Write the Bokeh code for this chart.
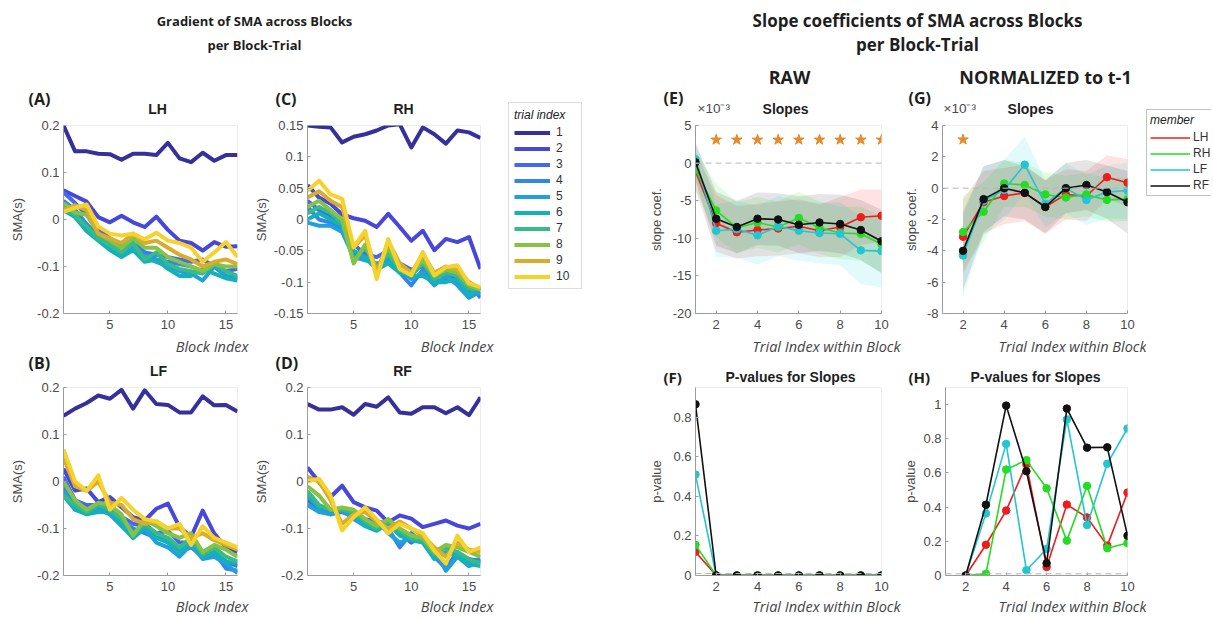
from bokeh.plotting import figure
from bokeh.models import Range1d, Label, Legend, LegendItem, Span, FixedTicker
from bokeh.layouts import column, row
from bokeh.embed import file_html
from bokeh.resources import INLINE

# ---------------- data ----------------
block_index = list(range(1, 17))
trial_names = ["1", "2", "3", "4", "5", "6", "7", "8", "9", "10"]
trial_colors = ["#35309a", "#4747da", "#4468f2", "#3485ea", "#22a0de", "#14b2b6",
                "#38bb88", "#86c244", "#d8ac2c", "#f6d32c"]

sma_LH = [
    [0.200, 0.145, 0.145, 0.140, 0.139, 0.127, 0.140, 0.140, 0.137, 0.163, 0.130, 0.122, 0.142, 0.125, 0.137, 0.137],
    [0.062, 0.050, 0.038, 0.005, -0.006, 0.008, -0.006, -0.016, 0.006, -0.022, -0.045, -0.050, -0.066, -0.048, -0.058, -0.057],
    [0.058, 0.035, 0.010, -0.020, -0.040, -0.055, -0.050, -0.070, -0.075, -0.080, -0.085, -0.090, -0.085, -0.100, -0.110, -0.105],
    [0.040, 0.020, -0.010, -0.035, -0.050, -0.060, -0.055, -0.070, -0.085, -0.090, -0.095, -0.100, -0.110, -0.100, -0.120, -0.125],
    [0.025, 0.010, -0.020, -0.040, -0.060, -0.075, -0.060, -0.080, -0.090, -0.100, -0.110, -0.115, -0.130, -0.100, -0.120, -0.125],
    [0.020, 0.005, -0.025, -0.045, -0.065, -0.080, -0.065, -0.090, -0.085, -0.105, -0.120, -0.120, -0.105, -0.115, -0.125, -0.130],
    [0.030, 0.010, -0.015, -0.040, -0.055, -0.070, -0.050, -0.085, -0.070, -0.095, -0.105, -0.110, -0.115, -0.095, -0.110, -0.120],
    [0.035, 0.015, 0.010, -0.030, -0.045, -0.060, -0.040, -0.060, -0.060, -0.080, -0.090, -0.100, -0.110, -0.095, -0.100, -0.100],
    [0.020, 0.030, 0.020, -0.030, -0.040, -0.050, -0.030, -0.050, -0.045, -0.060, -0.075, -0.085, -0.100, -0.090, -0.085, -0.095],
    [0.016, 0.025, 0.032, -0.015, -0.030, -0.034, -0.030, -0.042, -0.028, -0.045, -0.050, -0.060, -0.090, -0.070, -0.048, -0.080],
]
sma_RH = [
    [0.150, 0.148, 0.147, 0.123, 0.132, 0.136, 0.142, 0.150, 0.152, 0.115, 0.147, 0.136, 0.121, 0.142, 0.139, 0.130],
    [0.055, 0.035, 0.025, 0.008, 0.002, -0.002, -0.012, 0.009, -0.012, -0.034, -0.018, -0.049, -0.031, -0.036, -0.028, -0.079],
    [0.030, 0.015, 0.005, -0.010, -0.040, -0.055, -0.060, -0.050, -0.070, -0.080, -0.075, -0.090, -0.085, -0.095, -0.100, -0.125],
    [0.020, 0.000, -0.005, -0.015, -0.055, -0.060, -0.075, -0.060, -0.085, -0.105, -0.080, -0.100, -0.095, -0.100, -0.115, -0.120],
    [-0.005, -0.010, -0.010, -0.020, -0.060, -0.065, -0.070, -0.065, -0.080, -0.095, -0.085, -0.105, -0.090, -0.105, -0.125, -0.115],
    [0.000, 0.010, 0.000, -0.010, -0.050, -0.060, -0.080, -0.070, -0.085, -0.090, -0.090, -0.100, -0.100, -0.095, -0.120, -0.110],
    [0.010, 0.020, 0.010, -0.005, -0.065, -0.045, -0.075, -0.055, -0.080, -0.090, -0.070, -0.095, -0.085, -0.090, -0.110, -0.110],
    [0.020, 0.030, 0.015, 0.000, -0.070, -0.040, -0.080, -0.045, -0.075, -0.085, -0.065, -0.090, -0.080, -0.085, -0.105, -0.112],
    [0.035, 0.045, 0.030, 0.020, -0.045, -0.025, -0.085, -0.035, -0.070, -0.085, -0.055, -0.085, -0.075, -0.080, -0.100, -0.110],
    [0.046, 0.062, 0.040, 0.033, -0.044, -0.018, -0.095, -0.031, -0.079, -0.089, -0.052, -0.089, -0.076, -0.073, -0.102, -0.108],
]
sma_LF = [
    [0.140, 0.155, 0.167, 0.183, 0.176, 0.195, 0.155, 0.194, 0.165, 0.163, 0.147, 0.147, 0.181, 0.162, 0.163, 0.149],
    [0.027, -0.019, -0.015, -0.044, -0.033, -0.055, -0.076, -0.083, -0.058, -0.047, -0.097, -0.118, -0.062, -0.111, -0.140, -0.150],
    [0.010, -0.040, -0.050, -0.050, -0.060, -0.075, -0.090, -0.095, -0.110, -0.105, -0.130, -0.130, -0.150, -0.155, -0.170, -0.180],
    [-0.010, -0.050, -0.060, -0.055, -0.065, -0.085, -0.100, -0.110, -0.120, -0.120, -0.150, -0.140, -0.160, -0.150, -0.185, -0.190],
    [-0.020, -0.060, -0.065, -0.060, -0.070, -0.095, -0.120, -0.100, -0.130, -0.140, -0.160, -0.135, -0.165, -0.160, -0.175, -0.195],
    [-0.030, -0.060, -0.070, -0.065, -0.065, -0.090, -0.120, -0.095, -0.120, -0.130, -0.150, -0.125, -0.160, -0.150, -0.170, -0.175],
    [-0.030, -0.050, -0.065, -0.050, -0.060, -0.080, -0.110, -0.090, -0.110, -0.120, -0.140, -0.120, -0.155, -0.140, -0.160, -0.170],
    [0.000, -0.040, -0.060, -0.045, -0.050, -0.070, -0.115, -0.080, -0.095, -0.110, -0.120, -0.110, -0.150, -0.135, -0.145, -0.160],
    [0.050, -0.010, -0.020, 0.000, -0.045, -0.050, -0.080, -0.090, -0.085, -0.100, -0.100, -0.120, -0.110, -0.125, -0.135, -0.145],
    [0.068, 0.000, -0.020, 0.013, -0.060, -0.035, -0.060, -0.080, -0.085, -0.100, -0.090, -0.135, -0.095, -0.120, -0.130, -0.140],
]
sma_RF = [
    [0.165, 0.153, 0.153, 0.158, 0.142, 0.165, 0.159, 0.179, 0.147, 0.144, 0.158, 0.158, 0.145, 0.158, 0.141, 0.179],
    [0.030, -0.001, -0.033, -0.009, -0.044, -0.055, -0.062, -0.087, -0.072, -0.079, -0.097, -0.090, -0.083, -0.094, -0.100, -0.090],
    [-0.040, -0.055, -0.065, -0.060, -0.070, -0.080, -0.085, -0.090, -0.110, -0.130, -0.115, -0.150, -0.140, -0.155, -0.165, -0.170],
    [-0.050, -0.060, -0.070, -0.065, -0.075, -0.090, -0.095, -0.100, -0.140, -0.110, -0.130, -0.160, -0.185, -0.150, -0.170, -0.165],
    [-0.050, -0.065, -0.070, -0.060, -0.080, -0.095, -0.085, -0.110, -0.130, -0.120, -0.125, -0.145, -0.190, -0.160, -0.180, -0.170],
    [-0.030, -0.055, -0.060, -0.060, -0.070, -0.095, -0.105, -0.090, -0.115, -0.125, -0.130, -0.165, -0.150, -0.160, -0.175, -0.180],
    [-0.020, -0.050, -0.060, -0.060, -0.065, -0.085, -0.100, -0.085, -0.105, -0.120, -0.125, -0.155, -0.140, -0.150, -0.165, -0.175],
    [-0.010, -0.030, -0.060, -0.055, -0.060, -0.080, -0.095, -0.080, -0.100, -0.115, -0.120, -0.150, -0.135, -0.140, -0.150, -0.160],
    [0.010, 0.000, -0.040, -0.090, -0.070, -0.065, -0.085, -0.100, -0.085, -0.100, -0.115, -0.140, -0.160, -0.130, -0.145, -0.150],
    [0.000, 0.006, -0.030, -0.104, -0.076, -0.055, -0.080, -0.110, -0.090, -0.100, -0.110, -0.147, -0.175, -0.115, -0.150, -0.140],
]

# tick labels
ticks_x_block = [5, 10, 15]
ticks_sma_02 = [-0.2, -0.1, 0, 0.1, 0.2]
labels_sma_02 = ["-0.2", "-0.1", "0", "0.1", "0.2"]
ticks_sma_015 = [-0.15, -0.1, -0.05, 0, 0.05, 0.1, 0.15]
labels_sma_015 = ["-0.15", "-0.1", "-0.05", "0", "0.05", "0.1", "0.15"]

members = ["LH", "RH", "LF", "RF"]
member_colors = ["#ee1c1c", "#22dd22", "#22c6cf", "#111111"]
band_colors = ["#ff2020", "#20ee20", "#20d8e0", "#333333"]

trial_within = [1, 2, 3, 4, 5, 6, 7, 8, 9, 10]
trial_norm = [2, 3, 4, 5, 6, 7, 8, 9, 10]

# RAW slope coefficients (x 10^-3) and CI half-widths
raw_slope_LH = [-1.1, -8.0, -9.2, -8.9, -8.7, -8.4, -9.0, -8.5, -7.2, -7.0]
raw_slope_RH = [-0.9, -6.3, -8.6, -7.9, -8.5, -7.3, -8.6, -9.3, -9.4, -10.8]
raw_slope_LF = [0.5, -9.0, -8.8, -9.6, -8.4, -9.0, -9.3, -9.4, -11.6, -11.7]
raw_slope_RF = [0.1, -7.4, -8.5, -7.4, -7.5, -8.2, -7.9, -8.1, -8.9, -10.4]
raw_ci_LH = [2.5, 3.8, 3.5, 3.5, 3.6, 3.6, 3.5, 4.0, 3.7, 3.5]
raw_ci_RH = [2.5, 3.6, 3.4, 3.4, 3.4, 3.5, 3.5, 3.5, 3.6, 3.8]
raw_ci_LF = [2.5, 3.5, 3.8, 3.9, 4.0, 4.0, 4.0, 4.2, 4.5, 4.8]
raw_ci_RF = [2.5, 3.6, 3.5, 3.5, 3.5, 3.8, 3.8, 3.9, 4.0, 4.2]
raw_sig_trials = [2, 3, 4, 5, 6, 7, 8, 9, 10]
raw_p_LH = [0.12, 0.0, 0.0, 0.0, 0.0, 0.0, 0.0, 0.0, 0.0, 0.0]
raw_p_RH = [0.155, 0.0, 0.0, 0.0, 0.0, 0.0, 0.0, 0.0, 0.0, 0.0]
raw_p_LF = [0.51, 0.0, 0.0, 0.0, 0.0, 0.0, 0.0, 0.0, 0.0, 0.0]
raw_p_RF = [0.865, 0.0, 0.0, 0.0, 0.0, 0.0, 0.0, 0.0, 0.0, 0.0]

# NORMALIZED slope coefficients (x 10^-3)
norm_slope_LH = [-3.1, -0.9, -0.5, -0.3, -1.2, -0.4, -0.5, 0.7, 0.35]
norm_slope_RH = [-2.8, -1.5, 0.3, 0.2, -0.4, -0.6, -0.4, -0.75, -0.7]
norm_slope_LF = [-4.3, -0.8, -0.1, 1.5, -1.0, 0.0, -0.75, -0.25, -0.15]
norm_slope_RF = [-4.0, -0.7, 0.0, -0.3, -1.2, 0.0, 0.2, -0.25, -0.9]
norm_ci_LH = [2.4, 2.0, 1.8, 1.8, 1.7, 1.6, 1.6, 1.4, 1.5]
norm_ci_RH = [2.3, 1.9, 1.5, 1.4, 1.4, 1.4, 1.4, 1.4, 1.4]
norm_ci_LF = [2.6, 2.2, 1.9, 1.8, 1.5, 1.6, 1.6, 1.7, 1.8]
norm_ci_RF = [2.5, 2.1, 1.8, 1.7, 1.7, 1.6, 1.6, 1.7, 2.0]
norm_sig_trials = [2]
norm_p_LH = [0.0, 0.18, 0.38, 0.65, 0.05, 0.415, 0.34, 0.175, 0.485]
norm_p_RH = [0.0, 0.01, 0.62, 0.675, 0.51, 0.204, 0.524, 0.16, 0.19]
norm_p_LF = [0.0, 0.363, 0.77, 0.031, 0.155, 0.913, 0.295, 0.654, 0.86]
norm_p_RF = [0.0, 0.414, 0.994, 0.61, 0.072, 0.977, 0.748, 0.75, 0.233]

ticks_x_trial = [2, 4, 6, 8, 10]
ticks_raw = [-20, -15, -10, -5, 0, 5]
labels_raw = ["-20", "-15", "-10", "-5", "0", "5"]
ticks_norm = [-8, -6, -4, -2, 0, 2, 4]
labels_norm = ["-8", "-6", "-4", "-2", "0", "2", "4"]
ticks_p_raw = [0, 0.2, 0.4, 0.6, 0.8]
labels_p_raw = ["0", "0.2", "0.4", "0.6", "0.8"]
ticks_p_norm = [0, 0.2, 0.4, 0.6, 0.8, 1]
labels_p_norm = ["0", "0.2", "0.4", "0.6", "0.8", "1"]

sig_level_raw = 3.1
sig_level_norm = 3.1
p_ref_level = 0.01

# ---------------- helpers ----------------
TF = "Liberation Sans"
OF = "Open Sans"
PB = 22   # bottom border (tick labels)


def make_fig(w, h, top, left, right, xr, yr, xt, yt, ylabels, ylabel, lab_standoff):
    p = figure(width=w, height=h, x_range=Range1d(*xr), y_range=Range1d(*yr),
               output_backend="svg", toolbar_location=None,
               min_border_left=left, min_border_right=right,
               min_border_top=top, min_border_bottom=PB)
    p.grid.visible = False
    p.outline_line_color = "#ececec"
    p.background_fill_color = "white"
    p.border_fill_color = "white"
    p.xaxis.ticker = FixedTicker(ticks=xt)
    p.yaxis.ticker = FixedTicker(ticks=yt)
    p.yaxis.major_label_overrides = dict(zip(yt, ylabels))
    for ax in (p.xaxis[0], p.yaxis[0]):
        ax.axis_line_color = "#9c9c9c"
        ax.major_tick_line_color = "#9c9c9c"
        ax.major_tick_in = 3
        ax.major_tick_out = 0
        ax.minor_tick_line_color = None
        ax.major_label_text_font = TF
        ax.major_label_text_font_size = "13px"
        ax.major_label_text_color = "#4a4a4a"
    p.xaxis.major_label_standoff = 6
    p.yaxis.major_label_standoff = 4
    p.yaxis.axis_label = ylabel
    p.yaxis.axis_label_text_font = TF
    p.yaxis.axis_label_text_font_size = "13px"
    p.yaxis.axis_label_text_font_style = "normal"
    p.yaxis.axis_label_text_color = "#4a4a4a"
    p.yaxis.axis_label_standoff = lab_standoff
    return p


def sma_panel(data, w, h, top, left, right, yt, ylabels, standoff):
    p = make_fig(w, h, top, left, right, (1, 16), (yt[0], yt[-1]), ticks_x_block, yt,
                 ylabels, "SMA(s)", standoff)
    for vals, col in zip(data, trial_colors):
        p.line(block_index, vals, line_color=col, line_width=4, line_join="round")
    return p


def slope_panel(xs, slopes, cis, w, h, top, left, right, yt, ylabels, sig_x, sig_y, standoff):
    p = make_fig(w, h, top, left, right, (1, 10), (yt[0], yt[-1]), ticks_x_trial,
                 yt, ylabels, "slope coef.", standoff)
    p.add_layout(Span(location=0, dimension="width", line_color="#b5b5b5",
                      line_dash="6 4", line_width=1))
    for s, c, bc in zip(slopes, cis, band_colors):
        lo = [a - b for a, b in zip(s, c)]
        hi = [a + b for a, b in zip(s, c)]
        p.varea(x=xs, y1=lo, y2=hi, fill_color=bc, fill_alpha=0.13)
    for s, col in zip(slopes, member_colors):
        p.line(xs, s, line_color=col, line_width=1.6)
        p.scatter(xs, s, marker="circle", size=7.5, fill_color=col, line_color=col)
    p.scatter(sig_x, [sig_y] * len(sig_x), marker="star", size=11,
              fill_color="#e8892c", line_color="#e8892c")
    return p


def p_panel(xs, pvals, w, h, top, left, right, yt, ylabels, ytop, standoff):
    p = make_fig(w, h, top, left, right, (1, 10), (0, ytop), ticks_x_trial,
                 yt, ylabels, "p-value", standoff)
    p.add_layout(Span(location=p_ref_level, dimension="width", line_color="#b5b5b5",
                      line_dash="6 4", line_width=1))
    for s, col in zip(pvals, member_colors):
        p.line(xs, s, line_color=col, line_width=1.6)
        p.scatter(xs, s, marker="circle", size=7.5, fill_color=col, line_color=col)
    return p


def strip(x0, y0, w, h):
    f = figure(width=w, height=h, x_range=Range1d(x0, x0 + w), y_range=Range1d(y0 + h, y0),
               x_axis_type=None, y_axis_type=None, output_backend="svg",
               toolbar_location=None, min_border_left=0, min_border_right=0,
               min_border_top=0, min_border_bottom=0)
    f.grid.visible = False
    f.outline_line_color = None
    return f


def txt(f, x, y, text, size, font=OF, style="bold", align="left", color="#1e1e1e"):
    f.add_layout(Label(x=x, y=y, text=text, text_font=font, text_font_size=size,
                       text_font_style=style, text_align=align, text_baseline="middle",
                       text_color=color))


def legend_fig(w, xs, series, names, colors, lw, loc, title, glyph_w, pad, standoff, border):
    # the legend's own renderers carry the real series; the view range keeps them off-screen
    f = figure(width=w, height=616, x_range=Range1d(-20, -19), y_range=Range1d(-20, -19),
               x_axis_type=None, y_axis_type=None, output_backend="svg",
               toolbar_location=None, min_border_left=0, min_border_right=0,
               min_border_top=0, min_border_bottom=0)
    f.grid.visible = False
    f.outline_line_color = None
    rends = [f.line(xs, s, line_color=c, line_width=lw) for s, c in zip(series, colors)]
    leg = Legend(items=[LegendItem(label=n, renderers=[r]) for n, r in zip(names, rends)],
                 location=loc, title=title)
    leg.title_text_font_style = "italic"
    leg.title_text_font_size = "12px"
    leg.title_text_font = TF
    leg.title_text_color = "#222222"
    leg.title_standoff = 3
    leg.label_text_font = TF
    leg.label_text_font_size = "12px"
    leg.label_text_color = "#333333"
    leg.glyph_width = glyph_w
    leg.glyph_height = 13
    leg.label_height = 13
    leg.spacing = 2
    leg.padding = pad
    leg.margin = 0
    leg.label_standoff = standoff
    leg.border_line_color = border
    leg.background_fill_alpha = 1
    f.add_layout(leg)
    return f


# ---------------- panels ----------------
H1, T1 = 218, 8     # row 1 figures: y 117..335, frame 125..313
H2L, T2L = 218, 8   # row 2 left figures: y 379..597, frame 387..575
H2R, T2R = 210, 0   # row 2 right figures: y 387..597, frame 387..575

pA = sma_panel(sma_LH, 250, H1, T1, 63, 13, ticks_sma_02, labels_sma_02, 9)
pC = sma_panel(sma_RH, 250, H1, T1, 57, 20, ticks_sma_015, labels_sma_015, 2)
pB = sma_panel(sma_LF, 250, H2L, T2L, 63, 13, ticks_sma_02, labels_sma_02, 9)
pD = sma_panel(sma_RF, 250, H2L, T2L, 57, 20, ticks_sma_02, labels_sma_02, 9)

pE = slope_panel(trial_within, [raw_slope_LH, raw_slope_RH, raw_slope_LF, raw_slope_RF],
                 [raw_ci_LH, raw_ci_RH, raw_ci_LF, raw_ci_RF], 310, H1, T1, 105, 19,
                 ticks_raw, labels_raw, raw_sig_trials, sig_level_raw, 6)
pG = slope_panel(trial_norm, [norm_slope_LH, norm_slope_RH, norm_slope_LF, norm_slope_RF],
                 [norm_ci_LH, norm_ci_RH, norm_ci_LF, norm_ci_RF], 246, H1, T1, 41, 19,
                 ticks_norm, labels_norm, norm_sig_trials, sig_level_norm, 5)
pF = p_panel(trial_within, [raw_p_LH, raw_p_RH, raw_p_LF, raw_p_RF], 310, H2R, T2R, 105, 19,
             ticks_p_raw, labels_p_raw, 0.95, 6)
pH = p_panel(trial_norm, [norm_p_LH, norm_p_RH, norm_p_LF, norm_p_RF], 246, H2R, T2R, 41, 19,
             ticks_p_norm, labels_p_norm, 1.1, 2)

# ---------------- text strips (absolute pixel placement) ----------------
X10 = "\u00d710\u207b\u00b3"
hL = strip(0, 0, 500, 117)
txt(hL, 254, 20, "Gradient of SMA across Blocks", "13px", align="center")
txt(hL, 254, 44, "per Block-Trial", "13px", align="center")
txt(hL, 28, 98, "(A)", "16px")
txt(hL, 157, 108, "LH", "14px", TF, align="center")
txt(hL, 275, 98, "(C)", "16px")
txt(hL, 403, 108, "RH", "14px", TF, align="center")

mL = strip(0, 335, 500, 44)
txt(mL, 248, 346, "Block Index", "14.5px", style="italic", align="right", color="#444444")
txt(mL, 493, 346, "Block Index", "14.5px", style="italic", align="right", color="#444444")
txt(mL, 28, 362, "(B)", "16px")
txt(mL, 158, 370, "LF", "14px", TF, align="center")
txt(mL, 275, 362, "(D)", "16px")
txt(mL, 402, 370, "RF", "14px", TF, align="center")

fL = strip(0, 597, 500, 19)
txt(fL, 248, 606, "Block Index", "14.5px", style="italic", align="right", color="#444444")
txt(fL, 493, 606, "Block Index", "14.5px", style="italic", align="right", color="#444444")

hR = strip(590, 0, 556, 117)
txt(hR, 917, 20, "Slope coefficients of SMA across Blocks", "17px", align="center")
txt(hR, 917, 44, "per Block-Trial", "17px", align="center")
txt(hR, 789, 76, "RAW", "18px", align="center")
txt(hR, 1045, 76, "NORMALIZED to t-1", "18px", align="center")
txt(hR, 663, 97, "(E)", "16px")
txt(hR, 697, 108, X10, "13.5px", TF, "normal", color="#4a4a4a")
txt(hR, 785, 108, "Slopes", "14px", TF, align="center")
txt(hR, 908, 97, "(G)", "16px")
txt(hR, 943, 108, X10, "13.5px", TF, "normal", color="#4a4a4a")
txt(hR, 1030, 108, "Slopes", "14px", TF, align="center")

mR = strip(590, 335, 556, 52)
txt(mR, 900, 346, "Trial Index within Block", "14.5px", style="italic", align="right",
    color="#444444")
txt(mR, 1146, 346, "Trial Index within Block", "14.5px", style="italic", align="right",
    color="#444444")
txt(mR, 663, 376, "(F)", "15px")
txt(mR, 790, 376, "P-values for Slopes", "14px", TF, align="center")
txt(mR, 908, 376, "(H)", "15px")
txt(mR, 1035, 376, "P-values for Slopes", "14px", TF, align="center")

fR = strip(590, 597, 556, 19)
txt(fR, 900, 606, "Trial Index within Block", "14.5px", style="italic", align="right",
    color="#444444")
txt(fR, 1146, 606, "Trial Index within Block", "14.5px", style="italic", align="right",
    color="#444444")

# ---------------- legends ----------------
leg_trial = legend_fig(90, block_index, sma_RH, trial_names, trial_colors, 4, (8, 327),
                       "trial index", 36, 5, 6, "#bdbdbd")
leg_member = legend_fig(65, trial_norm,
                        [norm_slope_LH, norm_slope_RH, norm_slope_LF, norm_slope_RF],
                        members, member_colors, 1.6, (0, 420), "member", 40, 3, 3,
                        "#858585")

left_block = column(hL, row(pA, pC), mL, row(pB, pD), fL)
right_block = column(hR, row(pE, pG), mR, row(pF, pH), fR)
layout = row(left_block, leg_trial, right_block, leg_member)
open("out.html", "w").write(file_html(layout, INLINE))
